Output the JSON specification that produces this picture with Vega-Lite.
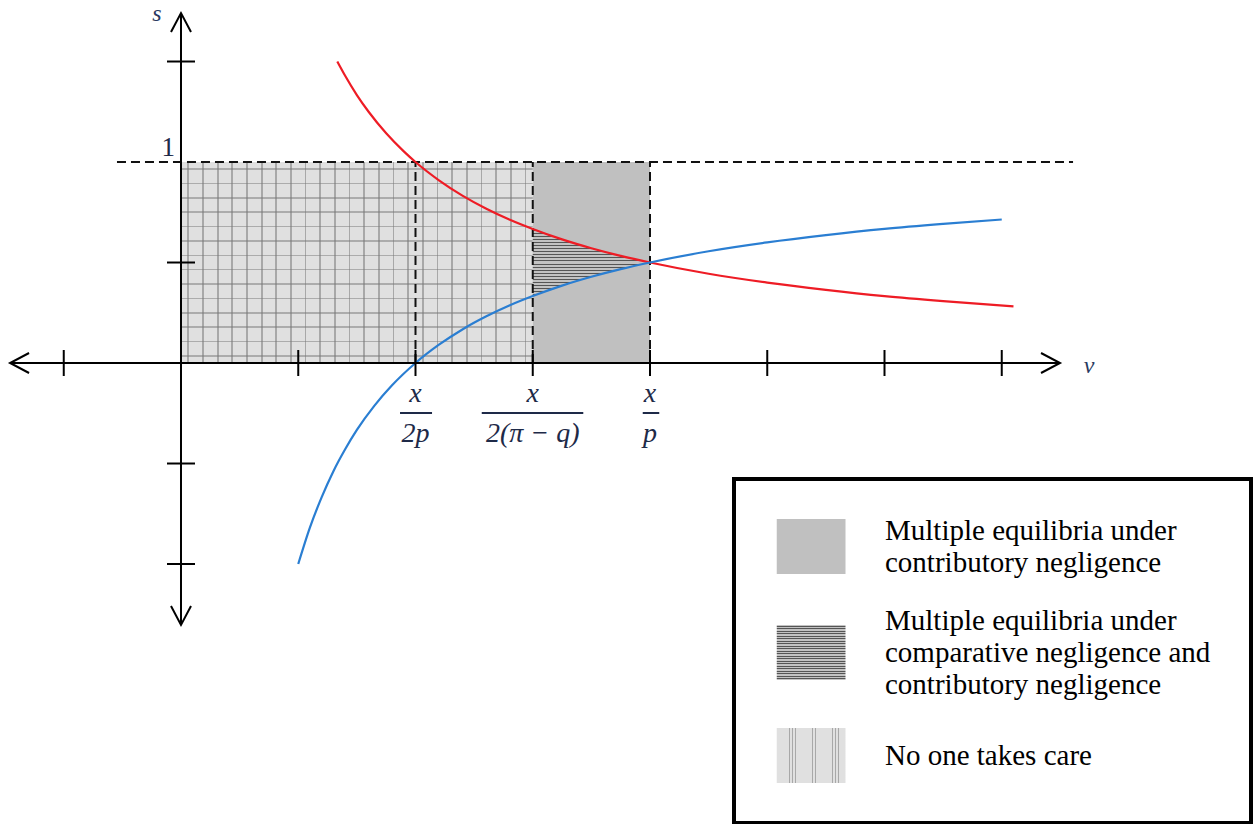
{
  "$schema": "https://vega.github.io/schema/vega-lite/v6.json",
  "width": 1259,
  "height": 824,
  "autosize": {"type": "none"},
  "padding": 0,
  "background": "white",
  "config": {
    "view": {"stroke": null},
    "legend": {"strokeWidth": 4},
    "style": {"guide-label": {"lineHeight": 32}}
  },
  "datasets": {
    "regions": [
      {"region": "No one takes care", "x": 0, "x2": 3, "s": 0, "s2": 1},
      {"region": "Multiple equilibria under|contributory negligence", "x": 3, "x2": 4, "s": 0, "s2": 1}
    ],
    "overlap": [
      {"region": "Multiple equilibria under|comparative negligence and|contributory negligence", "x": 3, "lo": 0.333, "hi": 0.667},
      {"region": "Multiple equilibria under|comparative negligence and|contributory negligence", "x": 3.25, "lo": 0.385, "hi": 0.615},
      {"region": "Multiple equilibria under|comparative negligence and|contributory negligence", "x": 3.5, "lo": 0.429, "hi": 0.571},
      {"region": "Multiple equilibria under|comparative negligence and|contributory negligence", "x": 3.75, "lo": 0.467, "hi": 0.533},
      {"region": "Multiple equilibria under|comparative negligence and|contributory negligence", "x": 4, "lo": 0.5, "hi": 0.5}
    ],
    "curves": [
      {"curve": "falling", "x": 1.333, "s": 1.5},
      {"curve": "falling", "x": 1.4, "s": 1.429},
      {"curve": "falling", "x": 1.5, "s": 1.333},
      {"curve": "falling", "x": 1.6, "s": 1.25},
      {"curve": "falling", "x": 1.75, "s": 1.143},
      {"curve": "falling", "x": 1.9, "s": 1.053},
      {"curve": "falling", "x": 2, "s": 1},
      {"curve": "falling", "x": 2.2, "s": 0.909},
      {"curve": "falling", "x": 2.4, "s": 0.833},
      {"curve": "falling", "x": 2.6, "s": 0.769},
      {"curve": "falling", "x": 2.8, "s": 0.714},
      {"curve": "falling", "x": 3, "s": 0.667},
      {"curve": "falling", "x": 3.25, "s": 0.615},
      {"curve": "falling", "x": 3.5, "s": 0.571},
      {"curve": "falling", "x": 3.75, "s": 0.533},
      {"curve": "falling", "x": 4, "s": 0.5},
      {"curve": "falling", "x": 4.5, "s": 0.444},
      {"curve": "falling", "x": 5, "s": 0.4},
      {"curve": "falling", "x": 5.5, "s": 0.364},
      {"curve": "falling", "x": 6, "s": 0.333},
      {"curve": "falling", "x": 6.5, "s": 0.308},
      {"curve": "falling", "x": 7.1, "s": 0.282},
      {"curve": "rising", "x": 1, "s": -1},
      {"curve": "rising", "x": 1.1, "s": -0.818},
      {"curve": "rising", "x": 1.2, "s": -0.667},
      {"curve": "rising", "x": 1.3, "s": -0.538},
      {"curve": "rising", "x": 1.4, "s": -0.429},
      {"curve": "rising", "x": 1.5, "s": -0.333},
      {"curve": "rising", "x": 1.65, "s": -0.212},
      {"curve": "rising", "x": 1.8, "s": -0.111},
      {"curve": "rising", "x": 2, "s": 0},
      {"curve": "rising", "x": 2.2, "s": 0.091},
      {"curve": "rising", "x": 2.4, "s": 0.167},
      {"curve": "rising", "x": 2.6, "s": 0.231},
      {"curve": "rising", "x": 2.8, "s": 0.286},
      {"curve": "rising", "x": 3, "s": 0.333},
      {"curve": "rising", "x": 3.25, "s": 0.385},
      {"curve": "rising", "x": 3.5, "s": 0.429},
      {"curve": "rising", "x": 3.75, "s": 0.467},
      {"curve": "rising", "x": 4, "s": 0.5},
      {"curve": "rising", "x": 4.5, "s": 0.556},
      {"curve": "rising", "x": 5, "s": 0.6},
      {"curve": "rising", "x": 5.5, "s": 0.636},
      {"curve": "rising", "x": 6, "s": 0.667},
      {"curve": "rising", "x": 6.5, "s": 0.692},
      {"curve": "rising", "x": 7, "s": 0.714}
    ],
    "fractions": [
      {"x": 2, "num": "x", "den": "2p", "b1": 1.868, "b2": 2.141},
      {"x": 3, "num": "x", "den": "2(π − q)", "b1": 2.565, "b2": 3.431},
      {"x": 4, "num": "x", "den": "p", "b1": 3.938, "b2": 4.079}
    ],
    "axes": [
      {"x": -1.458, "x2": 7.497, "s": 0, "s2": 0},
      {"x": 0, "x2": 0, "s": 1.741, "s2": -1.303}
    ],
    "arrows": [
      {"x": 7.497, "s": 0, "dir": "right"},
      {"x": -1.458, "s": 0, "dir": "left"},
      {"x": 0, "s": 1.741, "dir": "up"},
      {"x": 0, "s": -1.303, "dir": "down"}
    ],
    "xticks": [{"x": -1}, {"x": 1}, {"x": 2}, {"x": 3}, {"x": 4}, {"x": 5}, {"x": 6}, {"x": 7}],
    "yticks": [{"s": -1}, {"s": -0.5}, {"s": 0.5}, {"s": 1.5}],
    "dashes": [
      {"x": -0.546, "x2": 7.608, "s": 1, "s2": 1},
      {"x": 2, "x2": 2, "s": 0, "s2": 1},
      {"x": 3, "x2": 3, "s": 0, "s2": 1},
      {"x": 4, "x2": 4, "s": 0, "s2": 1}
    ]
  },
  "layer": [
    {
      "data": {"name": "regions"},
      "mark": {"type": "rect"},
      "encoding": {
        "x": {"field": "x", "type": "quantitative", "scale": {"domain": [-1.5437, 9.194], "nice": false, "zero": false}, "axis": null},
        "x2": {"field": "x2"},
        "y": {"field": "s", "type": "quantitative", "scale": {"domain": [-2.2935, 1.806], "nice": false, "zero": false}, "axis": null},
        "y2": {"field": "s2"},
        "fill": {
          "field": "region",
          "type": "nominal",
          "scale": {
            "domain": [
              "Multiple equilibria under|contributory negligence",
              "Multiple equilibria under|comparative negligence and|contributory negligence",
              "No one takes care"
            ],
            "range": [
              "#c0c0c0",
              {"expr": "{gradient:'linear',x1:0,y1:0,x2:0,y2:1,stops:[{offset:0,color:'#c2c2c2'},{offset:0.0152,color:'#c2c2c2'},{offset:0.0152,color:'#555555'},{offset:0.0302,color:'#555555'},{offset:0.0302,color:'#c2c2c2'},{offset:0.0607,color:'#c2c2c2'},{offset:0.0607,color:'#555555'},{offset:0.0757,color:'#555555'},{offset:0.0757,color:'#c2c2c2'},{offset:0.1061,color:'#c2c2c2'},{offset:0.1061,color:'#555555'},{offset:0.1211,color:'#555555'},{offset:0.1211,color:'#c2c2c2'},{offset:0.1516,color:'#c2c2c2'},{offset:0.1516,color:'#555555'},{offset:0.1666,color:'#555555'},{offset:0.1666,color:'#c2c2c2'},{offset:0.1970,color:'#c2c2c2'},{offset:0.1970,color:'#555555'},{offset:0.2120,color:'#555555'},{offset:0.2120,color:'#c2c2c2'},{offset:0.2425,color:'#c2c2c2'},{offset:0.2425,color:'#555555'},{offset:0.2575,color:'#555555'},{offset:0.2575,color:'#c2c2c2'},{offset:0.2880,color:'#c2c2c2'},{offset:0.2880,color:'#555555'},{offset:0.3030,color:'#555555'},{offset:0.3030,color:'#c2c2c2'},{offset:0.3334,color:'#c2c2c2'},{offset:0.3334,color:'#555555'},{offset:0.3484,color:'#555555'},{offset:0.3484,color:'#c2c2c2'},{offset:0.3789,color:'#c2c2c2'},{offset:0.3789,color:'#555555'},{offset:0.3939,color:'#555555'},{offset:0.3939,color:'#c2c2c2'},{offset:0.4243,color:'#c2c2c2'},{offset:0.4243,color:'#555555'},{offset:0.4393,color:'#555555'},{offset:0.4393,color:'#c2c2c2'},{offset:0.4698,color:'#c2c2c2'},{offset:0.4698,color:'#555555'},{offset:0.4848,color:'#555555'},{offset:0.4848,color:'#c2c2c2'},{offset:0.5152,color:'#c2c2c2'},{offset:0.5152,color:'#555555'},{offset:0.5302,color:'#555555'},{offset:0.5302,color:'#c2c2c2'},{offset:0.5607,color:'#c2c2c2'},{offset:0.5607,color:'#555555'},{offset:0.5757,color:'#555555'},{offset:0.5757,color:'#c2c2c2'},{offset:0.6061,color:'#c2c2c2'},{offset:0.6061,color:'#555555'},{offset:0.6211,color:'#555555'},{offset:0.6211,color:'#c2c2c2'},{offset:0.6516,color:'#c2c2c2'},{offset:0.6516,color:'#555555'},{offset:0.6666,color:'#555555'},{offset:0.6666,color:'#c2c2c2'},{offset:0.6970,color:'#c2c2c2'},{offset:0.6970,color:'#555555'},{offset:0.7120,color:'#555555'},{offset:0.7120,color:'#c2c2c2'},{offset:0.7425,color:'#c2c2c2'},{offset:0.7425,color:'#555555'},{offset:0.7575,color:'#555555'},{offset:0.7575,color:'#c2c2c2'},{offset:0.7880,color:'#c2c2c2'},{offset:0.7880,color:'#555555'},{offset:0.8030,color:'#555555'},{offset:0.8030,color:'#c2c2c2'},{offset:0.8334,color:'#c2c2c2'},{offset:0.8334,color:'#555555'},{offset:0.8484,color:'#555555'},{offset:0.8484,color:'#c2c2c2'},{offset:0.8789,color:'#c2c2c2'},{offset:0.8789,color:'#555555'},{offset:0.8939,color:'#555555'},{offset:0.8939,color:'#c2c2c2'},{offset:0.9243,color:'#c2c2c2'},{offset:0.9243,color:'#555555'},{offset:0.9393,color:'#555555'},{offset:0.9393,color:'#c2c2c2'},{offset:0.9698,color:'#c2c2c2'},{offset:0.9698,color:'#555555'},{offset:0.9848,color:'#555555'},{offset:0.9848,color:'#c2c2c2'},{offset:1,color:'#c2c2c2'}]}"},
              {"expr": "{gradient:'linear',x1:0,y1:0,x2:1,y2:0,stops:[{offset:0,color:'#e0e0e0'},{offset:0.0183,color:'#e0e0e0'},{offset:0.0183,color:'#a8a8a8'},{offset:0.0233,color:'#a8a8a8'},{offset:0.0233,color:'#e0e0e0'},{offset:0.0600,color:'#e0e0e0'},{offset:0.0600,color:'#a8a8a8'},{offset:0.0650,color:'#a8a8a8'},{offset:0.0650,color:'#e0e0e0'},{offset:0.1017,color:'#e0e0e0'},{offset:0.1017,color:'#a8a8a8'},{offset:0.1067,color:'#a8a8a8'},{offset:0.1067,color:'#e0e0e0'},{offset:0.1433,color:'#e0e0e0'},{offset:0.1433,color:'#a8a8a8'},{offset:0.1483,color:'#a8a8a8'},{offset:0.1483,color:'#e0e0e0'},{offset:0.1850,color:'#e0e0e0'},{offset:0.1850,color:'#a8a8a8'},{offset:0.1900,color:'#a8a8a8'},{offset:0.1900,color:'#e0e0e0'},{offset:0.2267,color:'#e0e0e0'},{offset:0.2267,color:'#a8a8a8'},{offset:0.2317,color:'#a8a8a8'},{offset:0.2317,color:'#e0e0e0'},{offset:0.2683,color:'#e0e0e0'},{offset:0.2683,color:'#a8a8a8'},{offset:0.2733,color:'#a8a8a8'},{offset:0.2733,color:'#e0e0e0'},{offset:0.3100,color:'#e0e0e0'},{offset:0.3100,color:'#a8a8a8'},{offset:0.3150,color:'#a8a8a8'},{offset:0.3150,color:'#e0e0e0'},{offset:0.3517,color:'#e0e0e0'},{offset:0.3517,color:'#a8a8a8'},{offset:0.3567,color:'#a8a8a8'},{offset:0.3567,color:'#e0e0e0'},{offset:0.3933,color:'#e0e0e0'},{offset:0.3933,color:'#a8a8a8'},{offset:0.3983,color:'#a8a8a8'},{offset:0.3983,color:'#e0e0e0'},{offset:0.4350,color:'#e0e0e0'},{offset:0.4350,color:'#a8a8a8'},{offset:0.4400,color:'#a8a8a8'},{offset:0.4400,color:'#e0e0e0'},{offset:0.4767,color:'#e0e0e0'},{offset:0.4767,color:'#a8a8a8'},{offset:0.4817,color:'#a8a8a8'},{offset:0.4817,color:'#e0e0e0'},{offset:0.5183,color:'#e0e0e0'},{offset:0.5183,color:'#a8a8a8'},{offset:0.5233,color:'#a8a8a8'},{offset:0.5233,color:'#e0e0e0'},{offset:0.5600,color:'#e0e0e0'},{offset:0.5600,color:'#a8a8a8'},{offset:0.5650,color:'#a8a8a8'},{offset:0.5650,color:'#e0e0e0'},{offset:0.6017,color:'#e0e0e0'},{offset:0.6017,color:'#a8a8a8'},{offset:0.6067,color:'#a8a8a8'},{offset:0.6067,color:'#e0e0e0'},{offset:0.6433,color:'#e0e0e0'},{offset:0.6433,color:'#a8a8a8'},{offset:0.6483,color:'#a8a8a8'},{offset:0.6483,color:'#e0e0e0'},{offset:0.6850,color:'#e0e0e0'},{offset:0.6850,color:'#a8a8a8'},{offset:0.6900,color:'#a8a8a8'},{offset:0.6900,color:'#e0e0e0'},{offset:0.7267,color:'#e0e0e0'},{offset:0.7267,color:'#a8a8a8'},{offset:0.7317,color:'#a8a8a8'},{offset:0.7317,color:'#e0e0e0'},{offset:0.7683,color:'#e0e0e0'},{offset:0.7683,color:'#a8a8a8'},{offset:0.7733,color:'#a8a8a8'},{offset:0.7733,color:'#e0e0e0'},{offset:0.8100,color:'#e0e0e0'},{offset:0.8100,color:'#a8a8a8'},{offset:0.8150,color:'#a8a8a8'},{offset:0.8150,color:'#e0e0e0'},{offset:0.8517,color:'#e0e0e0'},{offset:0.8517,color:'#a8a8a8'},{offset:0.8567,color:'#a8a8a8'},{offset:0.8567,color:'#e0e0e0'},{offset:0.8933,color:'#e0e0e0'},{offset:0.8933,color:'#a8a8a8'},{offset:0.8983,color:'#a8a8a8'},{offset:0.8983,color:'#e0e0e0'},{offset:0.9350,color:'#e0e0e0'},{offset:0.9350,color:'#a8a8a8'},{offset:0.9400,color:'#a8a8a8'},{offset:0.9400,color:'#e0e0e0'},{offset:0.9767,color:'#e0e0e0'},{offset:0.9767,color:'#a8a8a8'},{offset:0.9817,color:'#a8a8a8'},{offset:0.9817,color:'#e0e0e0'},{offset:1,color:'#e0e0e0'}]}"}
            ]
          },
          "legend": {
            "title": null,
            "orient": "none",
            "direction": "vertical",
            "legendX": 734,
            "legendY": 479,
            "padding": 40,
            "strokeColor": "black",
            "fillColor": "white",
            "symbolType": "M-0.9,-1H1.6V1H-0.9Z",
            "symbolSize": 3025,
            "symbolStrokeWidth": 0,
            "symbolOpacity": 1,
            "labelFont": "Liberation Serif",
            "labelFontSize": 29,
            "labelColor": "black",
            "labelLimit": 800,
            "labelOffset": 56,
            "labelExpr": "split(datum.label, '|')",
            "rowPadding": 28,
            "encode": {
              "labels": {
                "update": {
                  "dy": {"signal": "-(length(split(datum.label, '|')) - 1) * 16"}
                }
              }
            }
          }
        }
      }
    },
    {
      "data": {"name": "regions"},
      "transform": [{"filter": "datum.region == 'No one takes care'"}],
      "mark": {"type": "rect", "fill": {"gradient": "linear", "x1": 0, "y1": 0, "x2": 0, "y2": 1, "stops": [
        {"offset": 0, "color": "rgba(0,0,0,0)"},
        {"offset": 0.0317, "color": "rgba(0,0,0,0)"}, {"offset": 0.0317, "color": "rgba(120,120,120,0.5)"}, {"offset": 0.0397, "color": "rgba(120,120,120,0.5)"}, {"offset": 0.0397, "color": "rgba(0,0,0,0)"},
        {"offset": 0.1031, "color": "rgba(0,0,0,0)"}, {"offset": 0.1031, "color": "rgba(120,120,120,0.5)"}, {"offset": 0.1111, "color": "rgba(120,120,120,0.5)"}, {"offset": 0.1111, "color": "rgba(0,0,0,0)"},
        {"offset": 0.1746, "color": "rgba(0,0,0,0)"}, {"offset": 0.1746, "color": "rgba(120,120,120,0.5)"}, {"offset": 0.1826, "color": "rgba(120,120,120,0.5)"}, {"offset": 0.1826, "color": "rgba(0,0,0,0)"},
        {"offset": 0.2460, "color": "rgba(0,0,0,0)"}, {"offset": 0.2460, "color": "rgba(120,120,120,0.5)"}, {"offset": 0.2540, "color": "rgba(120,120,120,0.5)"}, {"offset": 0.2540, "color": "rgba(0,0,0,0)"},
        {"offset": 0.3174, "color": "rgba(0,0,0,0)"}, {"offset": 0.3174, "color": "rgba(120,120,120,0.5)"}, {"offset": 0.3254, "color": "rgba(120,120,120,0.5)"}, {"offset": 0.3254, "color": "rgba(0,0,0,0)"},
        {"offset": 0.3889, "color": "rgba(0,0,0,0)"}, {"offset": 0.3889, "color": "rgba(120,120,120,0.5)"}, {"offset": 0.3969, "color": "rgba(120,120,120,0.5)"}, {"offset": 0.3969, "color": "rgba(0,0,0,0)"},
        {"offset": 0.4603, "color": "rgba(0,0,0,0)"}, {"offset": 0.4603, "color": "rgba(120,120,120,0.5)"}, {"offset": 0.4683, "color": "rgba(120,120,120,0.5)"}, {"offset": 0.4683, "color": "rgba(0,0,0,0)"},
        {"offset": 0.5317, "color": "rgba(0,0,0,0)"}, {"offset": 0.5317, "color": "rgba(120,120,120,0.5)"}, {"offset": 0.5397, "color": "rgba(120,120,120,0.5)"}, {"offset": 0.5397, "color": "rgba(0,0,0,0)"},
        {"offset": 0.6031, "color": "rgba(0,0,0,0)"}, {"offset": 0.6031, "color": "rgba(120,120,120,0.5)"}, {"offset": 0.6111, "color": "rgba(120,120,120,0.5)"}, {"offset": 0.6111, "color": "rgba(0,0,0,0)"},
        {"offset": 0.6746, "color": "rgba(0,0,0,0)"}, {"offset": 0.6746, "color": "rgba(120,120,120,0.5)"}, {"offset": 0.6826, "color": "rgba(120,120,120,0.5)"}, {"offset": 0.6826, "color": "rgba(0,0,0,0)"},
        {"offset": 0.7460, "color": "rgba(0,0,0,0)"}, {"offset": 0.7460, "color": "rgba(120,120,120,0.5)"}, {"offset": 0.7540, "color": "rgba(120,120,120,0.5)"}, {"offset": 0.7540, "color": "rgba(0,0,0,0)"},
        {"offset": 0.8174, "color": "rgba(0,0,0,0)"}, {"offset": 0.8174, "color": "rgba(120,120,120,0.5)"}, {"offset": 0.8254, "color": "rgba(120,120,120,0.5)"}, {"offset": 0.8254, "color": "rgba(0,0,0,0)"},
        {"offset": 0.8889, "color": "rgba(0,0,0,0)"}, {"offset": 0.8889, "color": "rgba(120,120,120,0.5)"}, {"offset": 0.8969, "color": "rgba(120,120,120,0.5)"}, {"offset": 0.8969, "color": "rgba(0,0,0,0)"},
        {"offset": 0.9603, "color": "rgba(0,0,0,0)"}, {"offset": 0.9603, "color": "rgba(120,120,120,0.5)"}, {"offset": 0.9683, "color": "rgba(120,120,120,0.5)"}, {"offset": 0.9683, "color": "rgba(0,0,0,0)"},
        {"offset": 1, "color": "rgba(0,0,0,0)"}
      ]}},
      "encoding": {
        "x": {"field": "x", "type": "quantitative", "scale": {"domain": [-1.5437, 9.194], "nice": false, "zero": false}, "axis": null},
        "x2": {"field": "x2"},
        "y": {"field": "s", "type": "quantitative", "scale": {"domain": [-2.2935, 1.806], "nice": false, "zero": false}, "axis": null},
        "y2": {"field": "s2"}
      }
    },
    {
      "data": {"name": "overlap"},
      "mark": {"type": "area", "interpolate": "monotone", "opacity": 1},
      "encoding": {
        "x": {"field": "x", "type": "quantitative", "scale": {"domain": [-1.5437, 9.194], "nice": false, "zero": false}, "axis": null},
        "y": {"field": "lo", "type": "quantitative", "scale": {"domain": [-2.2935, 1.806], "nice": false, "zero": false}, "axis": null},
        "y2": {"field": "hi"},
        "fill": {"field": "region", "type": "nominal"}
      }
    },
    {
      "data": {"name": "dashes"},
      "mark": {"type": "rule", "color": "#111111", "strokeWidth": 2, "strokeDash": [9, 5]},
      "encoding": {
        "x": {"field": "x", "type": "quantitative", "scale": {"domain": [-1.5437, 9.194], "nice": false, "zero": false}, "axis": null},
        "x2": {"field": "x2"},
        "y": {"field": "s", "type": "quantitative", "scale": {"domain": [-2.2935, 1.806], "nice": false, "zero": false}, "axis": null},
        "y2": {"field": "s2"}
      }
    },
    {
      "data": {"name": "curves"},
      "mark": {"type": "line", "strokeWidth": 2.2, "interpolate": "monotone"},
      "encoding": {
        "x": {"field": "x", "type": "quantitative", "scale": {"domain": [-1.5437, 9.194], "nice": false, "zero": false}, "axis": null},
        "y": {"field": "s", "type": "quantitative", "scale": {"domain": [-2.2935, 1.806], "nice": false, "zero": false}, "axis": null},
        "stroke": {"field": "curve", "type": "nominal", "scale": {"domain": ["falling", "rising"], "range": ["#ee1c25", "#2a7ed2"]}, "legend": null}
      }
    },
    {
      "data": {"name": "axes"},
      "mark": {"type": "rule", "color": "black", "strokeWidth": 2},
      "encoding": {
        "x": {"field": "x", "type": "quantitative", "scale": {"domain": [-1.5437, 9.194], "nice": false, "zero": false}, "axis": null},
        "x2": {"field": "x2"},
        "y": {"field": "s", "type": "quantitative", "scale": {"domain": [-2.2935, 1.806], "nice": false, "zero": false}, "axis": null},
        "y2": {"field": "s2"}
      }
    },
    {
      "data": {"name": "arrows"},
      "mark": {"type": "point", "filled": false, "strokeWidth": 2, "color": "black", "size": 400, "opacity": 1},
      "encoding": {
        "x": {"field": "x", "type": "quantitative", "scale": {"domain": [-1.5437, 9.194], "nice": false, "zero": false}, "axis": null},
        "y": {"field": "s", "type": "quantitative", "scale": {"domain": [-2.2935, 1.806], "nice": false, "zero": false}, "axis": null},
        "shape": {"field": "dir", "type": "nominal", "scale": {"domain": ["right", "left", "up", "down"], "range": ["M-1.9,-1L0,0L-1.9,1", "M1.9,-1L0,0L1.9,1", "M-1,1.9L0,0L1,1.9", "M-1,-1.9L0,0L1,-1.9"]}, "legend": null}
      }
    },
    {
      "data": {"name": "xticks"},
      "mark": {"type": "tick", "orient": "vertical", "size": 26, "thickness": 2, "color": "black", "opacity": 1},
      "encoding": {
        "x": {"field": "x", "type": "quantitative", "scale": {"domain": [-1.5437, 9.194], "nice": false, "zero": false}, "axis": null},
        "y": {"datum": 0, "type": "quantitative", "scale": {"domain": [-2.2935, 1.806], "nice": false, "zero": false}, "axis": null}
      }
    },
    {
      "data": {"name": "yticks"},
      "mark": {"type": "tick", "orient": "horizontal", "size": 28, "thickness": 2, "color": "black", "opacity": 1},
      "encoding": {
        "x": {"datum": 0, "type": "quantitative", "scale": {"domain": [-1.5437, 9.194], "nice": false, "zero": false}, "axis": null},
        "y": {"field": "s", "type": "quantitative", "scale": {"domain": [-2.2935, 1.806], "nice": false, "zero": false}, "axis": null}
      }
    },
    {
      "data": {"name": "fractions"},
      "mark": {"type": "text", "font": "Liberation Serif", "fontStyle": "italic", "fontSize": 28, "color": "#1e2a48", "align": "center", "baseline": "alphabetic", "dy": 39},
      "encoding": {
        "x": {"field": "x", "type": "quantitative", "scale": {"domain": [-1.5437, 9.194], "nice": false, "zero": false}, "axis": null},
        "y": {"datum": 0, "type": "quantitative", "scale": {"domain": [-2.2935, 1.806], "nice": false, "zero": false}, "axis": null},
        "text": {"field": "num"}
      }
    },
    {
      "data": {"name": "fractions"},
      "mark": {"type": "text", "font": "Liberation Serif", "fontStyle": "italic", "fontSize": 28, "color": "#1e2a48", "align": "center", "baseline": "alphabetic", "dy": 79},
      "encoding": {
        "x": {"field": "x", "type": "quantitative", "scale": {"domain": [-1.5437, 9.194], "nice": false, "zero": false}, "axis": null},
        "y": {"datum": 0, "type": "quantitative", "scale": {"domain": [-2.2935, 1.806], "nice": false, "zero": false}, "axis": null},
        "text": {"field": "den"}
      }
    },
    {
      "data": {"name": "fractions"},
      "mark": {"type": "rule", "color": "#1e2a48", "strokeWidth": 2, "yOffset": 50},
      "encoding": {
        "x": {"field": "b1", "type": "quantitative", "scale": {"domain": [-1.5437, 9.194], "nice": false, "zero": false}, "axis": null},
        "x2": {"field": "b2"},
        "y": {"datum": 0, "type": "quantitative", "scale": {"domain": [-2.2935, 1.806], "nice": false, "zero": false}, "axis": null}
      }
    },
    {
      "data": {"values": [{"t": "1"}]},
      "mark": {"type": "text", "font": "Liberation Serif", "fontSize": 27, "color": "#1e2a48", "align": "right", "baseline": "alphabetic", "dx": -6, "dy": -6},
      "encoding": {
        "x": {"datum": 0, "type": "quantitative", "scale": {"domain": [-1.5437, 9.194], "nice": false, "zero": false}, "axis": null},
        "y": {"datum": 1, "type": "quantitative", "scale": {"domain": [-2.2935, 1.806], "nice": false, "zero": false}, "axis": null},
        "text": {"field": "t"}
      }
    },
    {
      "data": {"values": [{"t": "s"}]},
      "mark": {"type": "text", "font": "Liberation Serif", "fontStyle": "italic", "fontSize": 24, "color": "#2a3a60", "align": "center", "baseline": "alphabetic", "dx": -24, "dy": 8},
      "encoding": {
        "x": {"datum": 0, "type": "quantitative", "scale": {"domain": [-1.5437, 9.194], "nice": false, "zero": false}, "axis": null},
        "y": {"datum": 1.741, "type": "quantitative", "scale": {"domain": [-2.2935, 1.806], "nice": false, "zero": false}, "axis": null},
        "text": {"field": "t"}
      }
    },
    {
      "data": {"values": [{"t": "v"}]},
      "mark": {"type": "text", "font": "Liberation Serif", "fontStyle": "italic", "fontSize": 24, "color": "#2a3a60", "align": "center", "baseline": "alphabetic", "dx": 29, "dy": 10},
      "encoding": {
        "x": {"datum": 7.497, "type": "quantitative", "scale": {"domain": [-1.5437, 9.194], "nice": false, "zero": false}, "axis": null},
        "y": {"datum": 0, "type": "quantitative", "scale": {"domain": [-2.2935, 1.806], "nice": false, "zero": false}, "axis": null},
        "text": {"field": "t"}
      }
    }
  ]
}
